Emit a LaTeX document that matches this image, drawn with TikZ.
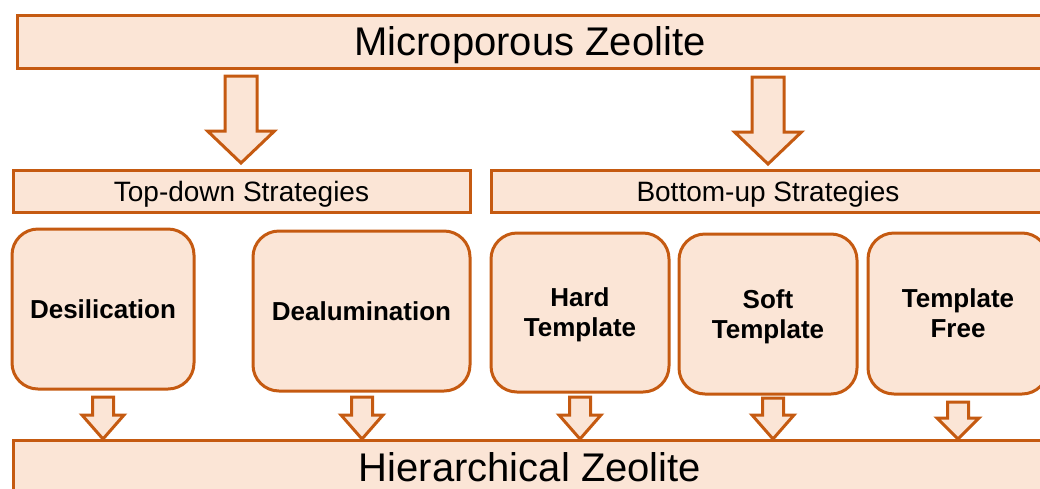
\documentclass[tikz,border=0pt]{standalone}
\usepackage{fontspec}
\setmainfont{Liberation Sans}
\definecolor{peach}{HTML}{FBE5D6}
\definecolor{rust}{HTML}{C55A11}
\newcommand{\blockarrow}[6]{% cx, top, shaft end, tip, half shaft, half head
  \draw[blockarr] (#1-#5,#2) -- (#1+#5,#2) -- (#1+#5,#3) -- (#1+#6,#3) -- (#1,#4)
    -- (#1-#6,#3) -- (#1-#5,#3) -- cycle;}
\begin{document}
\begin{tikzpicture}[x=1pt,y=-1pt,
  bar/.style={draw=rust,fill=peach,line width=3pt,inner sep=0pt,text=black,
    rectangle,text depth=0pt},
  bigbar/.style={bar,font=\fontsize{40}{48}\selectfont},
  stratbar/.style={bar,font=\fontsize{28}{34}\selectfont},
  method/.style={bar,rounded corners=26pt,align=center,
    font=\bfseries\fontsize{26}{30}\selectfont},
  blockarr/.style={draw=rust,fill=peach,line width=3pt,line join=miter}]
\useasboundingbox (0,0) rectangle (1040,488);
\clip (0,0) rectangle (1040,488);

\node[bigbar,minimum width=1026pt,minimum height=53pt] (micro) at (530,41.5) {Microporous Zeolite};
\node[bigbar,minimum width=1034pt,minimum height=54pt] (hier) at (530,467) {Hierarchical Zeolite};

\node[stratbar,minimum width=457pt,minimum height=42pt] (top) at (241.5,191) {Top-down Strategies};
\node[stratbar,minimum width=554pt,minimum height=42pt] (bottom) at (768,191) {Bottom-up Strategies};

\node[method,minimum width=182pt,minimum height=160pt] (desil) at (103,309) {Desilication};
\node[method,minimum width=217pt,minimum height=160pt] (dealu) at (361.5,311) {Dealumination};
\node[method,minimum width=178pt,minimum height=159pt] (hard) at (580,312.5) {Hard\\Template};
\node[method,minimum width=178pt,minimum height=160pt] (soft) at (768,314) {Soft\\Template};
\node[method,minimum width=180pt,minimum height=161pt] (free) at (958,313.5) {Template\\Free};

\blockarrow{241}{76}{131}{163}{16}{33.5}
\blockarrow{768}{77}{132}{164}{16}{33.5}

\blockarrow{103}{397}{415}{439}{10.5}{21}
\blockarrow{362}{397}{415}{439}{10.5}{21}
\blockarrow{580}{397}{415}{439}{10.5}{21}
\blockarrow{773}{398}{415}{439}{10.5}{21}
\blockarrow{958}{402}{418}{439}{10.5}{21}
\end{tikzpicture}
\end{document}
